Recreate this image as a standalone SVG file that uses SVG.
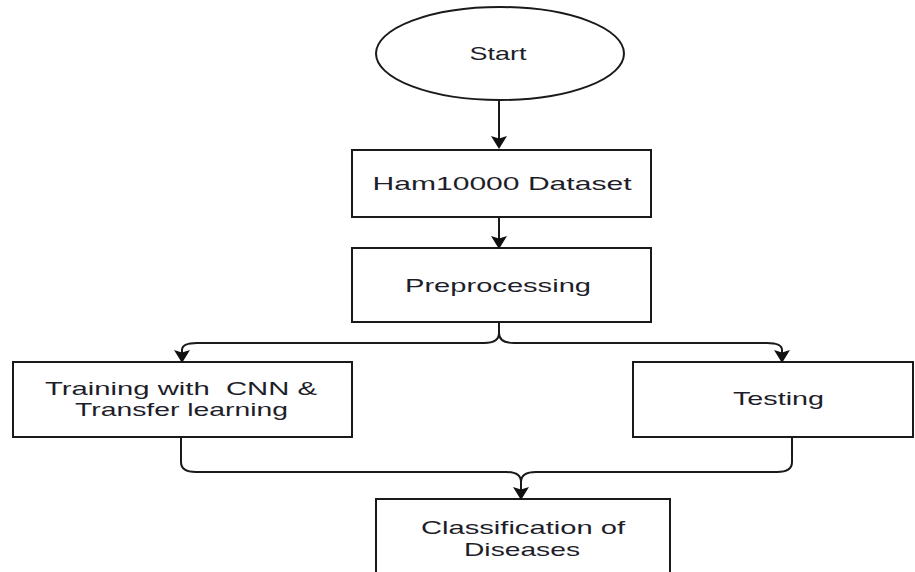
<svg xmlns="http://www.w3.org/2000/svg" width="915" height="572" viewBox="0 0 915 572">
  <style>
    .shape { fill: #ffffff; stroke: #1a1a1a; stroke-width: 2; }
    .label { font-family: "Liberation Sans", Arial, sans-serif; font-size: 19px; fill: #1e1e2a; text-anchor: middle; }
    .edge { fill: none; stroke: #1a1a1a; stroke-width: 2; }
  </style>
  <defs>
    <marker id="arrow" viewBox="0 0 13 16" refX="4" refY="8" markerWidth="13" markerHeight="16" markerUnits="userSpaceOnUse" orient="auto">
      <path d="M0,0 L13,8 L0,16 L2.5,8 z" fill="#111111"/>
    </marker>
  </defs>

  <rect width="915" height="572" fill="#ffffff"/>

  <g id="start">
    <ellipse class="shape" cx="500" cy="53.5" rx="124" ry="46.5"/>
    <text class="label" x="498" y="60" textLength="57" lengthAdjust="spacingAndGlyphs">Start</text>
  </g>

  <g id="dataset">
    <rect class="shape" x="352" y="150" width="299" height="67"/>
    <text class="label" x="502" y="190" textLength="259" lengthAdjust="spacingAndGlyphs">Ham10000 Dataset</text>
  </g>

  <g id="preprocessing">
    <rect class="shape" x="352" y="248" width="299" height="74"/>
    <text class="label" x="498" y="292" textLength="186" lengthAdjust="spacingAndGlyphs">Preprocessing</text>
  </g>

  <g id="training">
    <rect class="shape" x="13" y="362" width="339" height="75"/>
    <text class="label" x="181" y="395" textLength="272" lengthAdjust="spacingAndGlyphs" xml:space="preserve">Training with  CNN &amp;</text>
    <text class="label" x="181.5" y="416" textLength="213" lengthAdjust="spacingAndGlyphs">Transfer learning</text>
  </g>

  <g id="testing">
    <rect class="shape" x="633" y="362" width="280" height="75"/>
    <text class="label" x="778.5" y="405" textLength="91" lengthAdjust="spacingAndGlyphs">Testing</text>
  </g>

  <g id="classification">
    <rect class="shape" x="376" y="499" width="294" height="100"/>
    <text class="label" x="523" y="534" textLength="204" lengthAdjust="spacingAndGlyphs">Classification of</text>
    <text class="label" x="522" y="556" textLength="116" lengthAdjust="spacingAndGlyphs">Diseases</text>
  </g>

  <g id="connectors">
    <path class="edge" d="M499,100 L499,140" marker-end="url(#arrow)"/>
    <path class="edge" d="M499,217 L499,240" marker-end="url(#arrow)"/>
    <path class="edge" d="M499,322 L499,333 Q499,343 484,343 L197,343 Q182,343 182,350 L182,354" marker-end="url(#arrow)"/>
    <path class="edge" d="M499,333 Q499,343 514,343 L767,343 Q782,343 782,350 L782,354" marker-end="url(#arrow)"/>
    <path class="edge" d="M181,437 L181,462 Q181,472 196,472 L506,472 Q521,472 521,482 L521,491" marker-end="url(#arrow)"/>
    <path class="edge" d="M792,437 L792,462 Q792,472 777,472 L536,472 Q521,472 521,482"/>
  </g>
</svg>
